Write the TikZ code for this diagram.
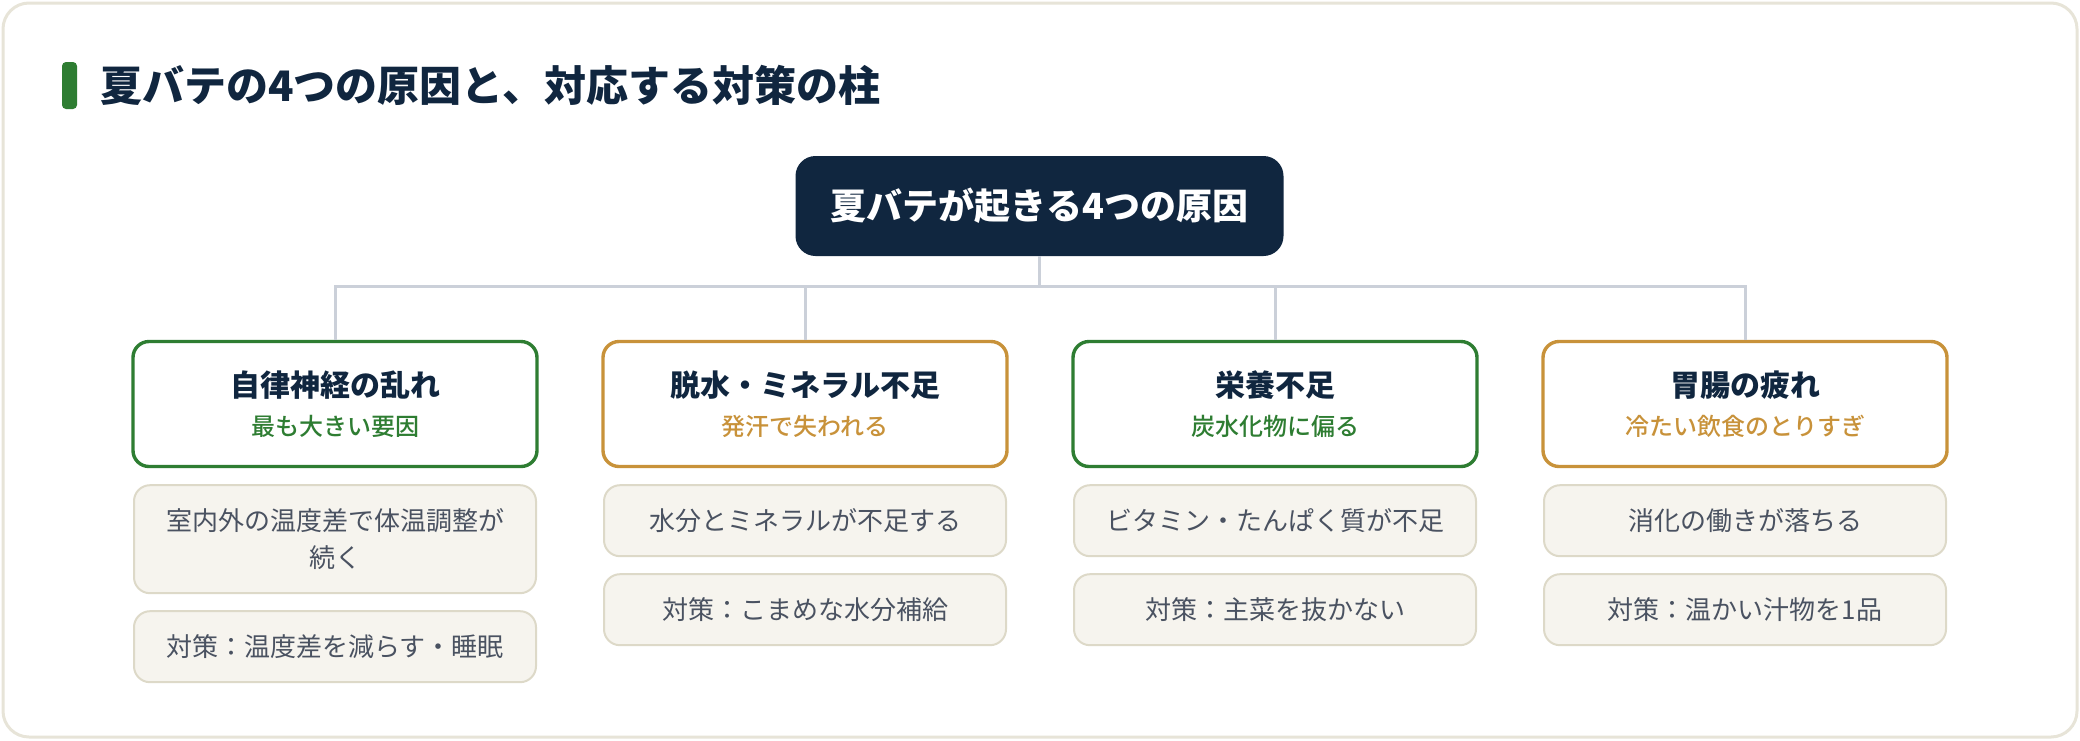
\documentclass[tikz,border=0pt]{standalone}
\usepackage{fontspec}
\setmainfont{Noto Sans CJK JP}
\newfontfamily\midweight{Noto Sans CJK JP}[UprightFont={* Medium}]
\usepackage{tikz}
\usetikzlibrary{positioning}
\usepackage{xcolor}

\definecolor{navy}{HTML}{10263F}
\definecolor{leaf}{HTML}{2E7D32}
\definecolor{ochre}{HTML}{C8923A}
\definecolor{paper}{HTML}{F6F4EE}
\definecolor{paperline}{HTML}{DDD9C8}
\definecolor{itemtext}{HTML}{4A5261}
\definecolor{wire}{HTML}{CBD0D9}
\definecolor{cardline}{HTML}{E7E4D8}

\begin{document}
\begin{tikzpicture}[x=0.5pt,y=0.5pt,
	rootbox/.style={
		fill=navy,
		rounded corners=10pt,
		minimum width=244pt,
		minimum height=50pt,
		text=white,
		font=\bfseries\fontsize{18pt}{22pt}\selectfont
	},
	catbox/.style={
		draw=#1,
		line width=1.7pt,
		fill=white,
		rounded corners=8pt,
		minimum width=202pt,
		minimum height=62.5pt,
		inner sep=0pt,
		align=center,
		text=#1,
		font=\midweight\fontsize{12pt}{19.5pt}\selectfont
	},
	itembox/.style={
		draw=paperline,
		line width=1pt,
		fill=paper,
		rounded corners=8pt,
		minimum width=201pt,
		minimum height=35.5pt,
		inner sep=0pt,
		align=center,
		text=itemtext,
		font=\fontsize{13pt}{18.5pt}\selectfont
	},
	wireline/.style={draw=wire, line width=1.5pt}]

	\useasboundingbox (0,0) rectangle (2080,-740);
	\draw[cardline, line width=1.5pt, fill=white, rounded corners=13pt] (3,-3) rectangle (2077,-737);

	% heading
	\fill[leaf, rounded corners=2pt] (62,-62) rectangle (77,-109);
	\node[anchor=west, inner sep=0pt, text=navy, font=\bfseries\fontsize{21pt}{25pt}\selectfont] (heading) at (100,-85) {夏バテの4つの原因と、対応する対策の柱};

	\node[rootbox] (cause) at (1039.5,-206) {夏バテが起きる4つの原因};
	\coordinate (bus) at (1039.5,-286);

	% four causes
	\node[catbox=leaf] (nerve) at (335,-404) {\textcolor{navy}{\bfseries\fontsize{15pt}{19.5pt}\selectfont 自律神経の乱れ}\\最も大きい要因};
	\node[catbox=ochre] (water) at (805,-404) {\textcolor{navy}{\bfseries\fontsize{15pt}{19.5pt}\selectfont 脱水・ミネラル不足}\\発汗で失われる};
	\node[catbox=leaf] (food) at (1275,-404) {\textcolor{navy}{\bfseries\fontsize{15pt}{19.5pt}\selectfont 栄養不足}\\炭水化物に偏る};
	\node[catbox=ochre] (gut) at (1745,-404) {\textcolor{navy}{\bfseries\fontsize{15pt}{19.5pt}\selectfont 胃腸の疲れ}\\冷たい飲食のとりすぎ};

	% causes and measures
	\node[itembox, minimum height=54pt, below=8pt of nerve] (nerveA) {室内外の温度差で体温調整が\\続く};
	\node[itembox, below=8pt of nerveA] (nerveB) {対策：温度差を減らす・睡眠};
	\node[itembox, below=8pt of water] (waterA) {水分とミネラルが不足する};
	\node[itembox, below=8pt of waterA] (waterB) {対策：こまめな水分補給};
	\node[itembox, below=8pt of food] (foodA) {ビタミン・たんぱく質が不足};
	\node[itembox, below=8pt of foodA] (foodB) {対策：主菜を抜かない};
	\node[itembox, below=8pt of gut] (gutA) {消化の働きが落ちる};
	\node[itembox, below=8pt of gutA] (gutB) {対策：温かい汁物を1品};

	\draw[wireline] (cause.south) -- (cause.south |- bus) -| (nerve.north);
	\draw[wireline] (cause.south |- bus) -| (water.north);
	\draw[wireline] (cause.south |- bus) -| (food.north);
	\draw[wireline] (cause.south |- bus) -| (gut.north);
\end{tikzpicture}
\end{document}
